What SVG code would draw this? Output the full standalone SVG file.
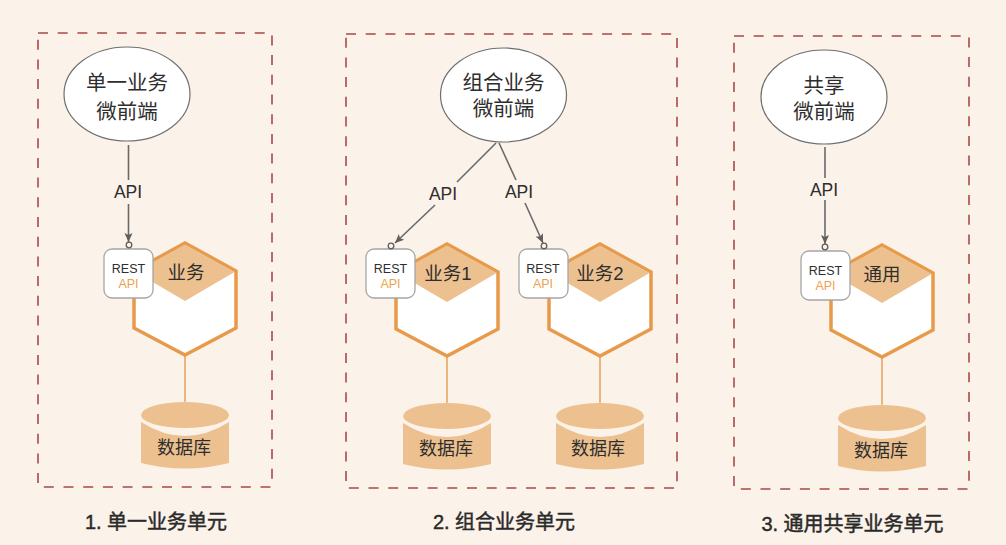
<svg xmlns="http://www.w3.org/2000/svg" width="1006" height="545" viewBox="0 0 1006 545">
  <style>
    text { font-family: "Liberation Sans", "Noto Sans CJK SC", sans-serif; text-anchor: middle; fill: #2e2e2e; }
    .zone { fill: none; stroke: #a84a46; stroke-width: 1.6; stroke-dasharray: 10 9.700; }
    .fe { fill: #fff; stroke: #6f6f6f; stroke-width: 1.2; }
    .fe-t { font-size: 20.500px; }
    .hex { fill: #fff; stroke: #e79a4a; stroke-width: 3.500; stroke-linejoin: miter; }
    .cap { fill: #edc08f; }
    .box { fill: #fff; stroke: #a5a5a5; stroke-width: 1.3; }
    .rest { font-size: 12.500px; }
    .api2 { font-size: 12.500px; fill: #eda24f; }
    .svc { font-size: 18.500px; }
    .db { font-size: 18px; }
    .link { stroke: #e9a05a; stroke-width: 1.5; fill: none; }
    .conn { stroke: #6a6a6a; stroke-width: 1.6; fill: none; }
    .tip { marker-end: url(#arrow); }
    .lbl { font-size: 17.500px; }
    .cap-t { font-size: 20px; stroke: #2a2a2a; stroke-width: 0.450; fill: #2a2a2a; }
    .ring { fill: none; stroke: #5f5f5f; stroke-width: 1.3; }
  </style>
  <defs>
    <marker id="arrow" markerWidth="12" markerHeight="12" refX="9" refY="5" orient="auto" markerUnits="userSpaceOnUse">
      <path d="M0 1 L9 5 L0 9 L2 5 Z" fill="#5f5f5f"/>
    </marker>
    <!-- service hexagon, origin at the top vertex -->
    <g id="hexagon">
      <path class="hex" d="M0 0 L51 28 V85 L0 112 L-51 85 V28 Z"/>
      <path class="cap" d="M0 1.500 L49.500 29 L0 58 L-49.500 29 Z"/>
    </g>
    <!-- database cylinder, origin at the centre of the top edge -->
    <g id="cylinder">
      <path class="cap" d="M-44 20 Q0 48 44 20 V61 Q0 72 -44 61 Z"/>
      <ellipse cx="0" cy="13.800" rx="44" ry="14" fill="#fdf3e9"/>
      <ellipse cx="0" cy="13" rx="44" ry="13" class="cap"/>
    </g>
  </defs>

  <rect width="1006" height="545" fill="#fbf2e9"/>

  <g id="zones">
    <rect class="zone" x="38" y="33" width="234" height="454"/>
    <rect class="zone" x="346" y="34" width="331" height="454"/>
    <rect class="zone" x="734" y="36" width="235" height="453"/>
  </g>

  <g id="connectors">
    <path class="conn" d="M128.500 145 V180"/>
    <path class="conn tip" d="M128.500 204 V242"/>
    <path class="conn" d="M496 143 L457 182"/>
    <path class="conn tip" d="M435 205 L395 243"/>
    <path class="conn" d="M499 143 L516 180"/>
    <path class="conn tip" d="M525 203 L543 243"/>
    <path class="conn" d="M825 147 V178"/>
    <path class="conn tip" d="M825 200 V244"/>
    <path class="link" d="M185 356 V403"/>
    <path class="link" d="M447 357 V404"/>
    <path class="link" d="M600 357 V404"/>
    <path class="link" d="M882 358 V406"/>
    <text class="lbl" x="128" y="198">API</text>
    <text class="lbl" x="443" y="200">API</text>
    <text class="lbl" x="519" y="198">API</text>
    <text class="lbl" x="824" y="196">API</text>
  </g>

  <g id="frontend-single">
    <ellipse class="fe" cx="127" cy="94" rx="63" ry="47"/>
    <text class="fe-t" x="127" y="90">单一业务</text>
    <text class="fe-t" x="127" y="119">微前端</text>
  </g>
  <g id="frontend-combined">
    <ellipse class="fe" cx="503.500" cy="95" rx="63" ry="47"/>
    <text class="fe-t" x="503.500" y="90">组合业务</text>
    <text class="fe-t" x="503.500" y="116">微前端</text>
  </g>
  <g id="frontend-shared">
    <ellipse class="fe" cx="824" cy="97" rx="63" ry="47"/>
    <text class="fe-t" x="824" y="93">共享</text>
    <text class="fe-t" x="824" y="119">微前端</text>
  </g>

  <g id="service-single">
    <use href="#hexagon" x="185" y="243"/>
    <text class="svc" x="186" y="279">业务</text>
    <rect class="box" x="104" y="249" width="49" height="49" rx="8"/>
    <circle class="ring" cx="129" cy="245" r="2.800"/>
    <text class="rest" x="128.500" y="273">REST</text>
    <text class="api2" x="128.500" y="288">API</text>
  </g>
  <g id="service-1">
    <use href="#hexagon" x="447" y="244"/>
    <text class="svc" x="448" y="280">业务1</text>
    <rect class="box" x="366" y="249" width="49" height="49" rx="8"/>
    <circle class="ring" cx="391" cy="246" r="2.800"/>
    <text class="rest" x="390.500" y="273">REST</text>
    <text class="api2" x="390.500" y="288">API</text>
  </g>
  <g id="service-2">
    <use href="#hexagon" x="600" y="244"/>
    <text class="svc" x="600" y="280">业务2</text>
    <rect class="box" x="519" y="249" width="49" height="49" rx="8"/>
    <circle class="ring" cx="544" cy="246" r="2.800"/>
    <text class="rest" x="543" y="273">REST</text>
    <text class="api2" x="543" y="288">API</text>
  </g>
  <g id="service-shared">
    <use href="#hexagon" x="882" y="245"/>
    <text class="svc" x="882" y="281">通用</text>
    <rect class="box" x="801" y="251" width="49" height="49" rx="8"/>
    <circle class="ring" cx="825" cy="247" r="2.800"/>
    <text class="rest" x="825.500" y="275">REST</text>
    <text class="api2" x="825.500" y="290">API</text>
  </g>

  <g id="db-single">
    <use href="#cylinder" x="185" y="402"/>
    <text class="db" x="184" y="454">数据库</text>
  </g>
  <g id="db-1">
    <use href="#cylinder" x="447" y="403"/>
    <text class="db" x="446" y="455">数据库</text>
  </g>
  <g id="db-2">
    <use href="#cylinder" x="600" y="403"/>
    <text class="db" x="598" y="455">数据库</text>
  </g>
  <g id="db-shared">
    <use href="#cylinder" x="882" y="405"/>
    <text class="db" x="881" y="457">数据库</text>
  </g>

  <g id="captions">
    <text class="cap-t" x="156" y="529">1. 单一业务单元</text>
    <text class="cap-t" x="504" y="529">2. 组合业务单元</text>
    <text class="cap-t" x="852.500" y="531">3. 通用共享业务单元</text>
  </g>
</svg>
